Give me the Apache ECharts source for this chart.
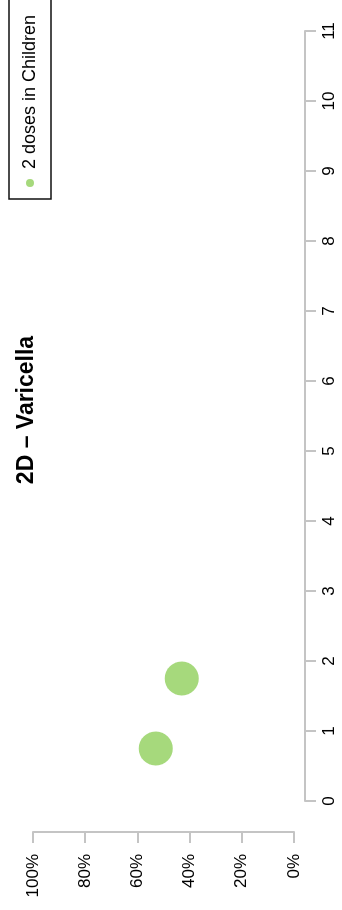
<!DOCTYPE html>
<html>
<head>
<meta charset="utf-8">
<script src="https://cdn.jsdelivr.net/npm/echarts@6/dist/echarts.min.js"></script>
<style>
html, body { margin: 0; padding: 0; width: 342px; height: 910px; overflow: hidden; background: #fff; }
#chart { position: absolute; left: 0; top: 0; width: 910px; height: 342px;
  transform-origin: 0 0; transform: translate(0px, 910px) rotate(-90deg); }
</style>
</head>
<body>
<div id="chart"></div>
<script>
// Data
const titleText = '2D – Varicella';
const seriesName = '2 doses in Children';
const xValues = [0.75, 1.75];      // position along the 0–11 axis
const yValues = [53, 43];          // percent
const xTicks = [0, 1, 2, 3, 4, 5, 6, 7, 8, 9, 10, 11];
const yTicks = [0, 20, 40, 60, 80, 100];

const FONT = '"Liberation Sans", Arial, Helvetica, sans-serif';
const chart = echarts.init(document.getElementById('chart'), null, { renderer: 'canvas' });

const points = xValues.map((x, i) => [x, yValues[i]]);

chart.setOption({
  animation: false,
  backgroundColor: '#ffffff',
  title: {
    text: titleText,
    left: 495,
    top: 10,
    textAlign: 'center',
    textStyle: { fontFamily: FONT, fontSize: 23, fontWeight: 'bold', color: '#000' }
  },
  legend: {
    data: [seriesName],
    left: 711,
    top: 9,
    orient: 'horizontal',
    icon: 'circle',
    itemWidth: 8,
    itemHeight: 8,
    padding: [12, 40, 12, 12],
    borderColor: '#111',
    borderWidth: 1.5,
    textStyle: { fontFamily: FONT, fontSize: 18, color: '#000', padding: [0, 0, 0, 5] }
  },
  grid: { left: 109, right: 31, top: 33, bottom: 48, containLabel: false },
  xAxis: {
    type: 'value',
    min: xTicks[0],
    max: xTicks[xTicks.length - 1],
    interval: 1,
    offset: 11,
    axisLine: { show: true, onZero: false, lineStyle: { color: '#c4c4c4', width: 2 } },
    axisTick: { show: true, length: 11, lineStyle: { color: '#c4c4c4', width: 2 } },
    axisLabel: { fontFamily: FONT, fontSize: 17, color: '#000', margin: 16 },
    splitLine: { show: false }
  },
  yAxis: {
    type: 'value',
    min: yTicks[0],
    max: yTicks[yTicks.length - 1],
    interval: 20,
    offset: 31,
    axisLine: { show: true, onZero: false, lineStyle: { color: '#c4c4c4', width: 2 } },
    axisTick: { show: true, length: 11, lineStyle: { color: '#c4c4c4', width: 2 } },
    axisLabel: { fontFamily: FONT, fontSize: 17, color: '#000', margin: 22, formatter: '{value}%' },
    splitLine: { show: false }
  },
  series: [{
    name: seriesName,
    type: 'scatter',
    data: points,
    symbol: 'circle',
    symbolSize: 34,
    itemStyle: { color: '#a6d97c', opacity: 1 }
  }]
});
</script>
</body>
</html>
